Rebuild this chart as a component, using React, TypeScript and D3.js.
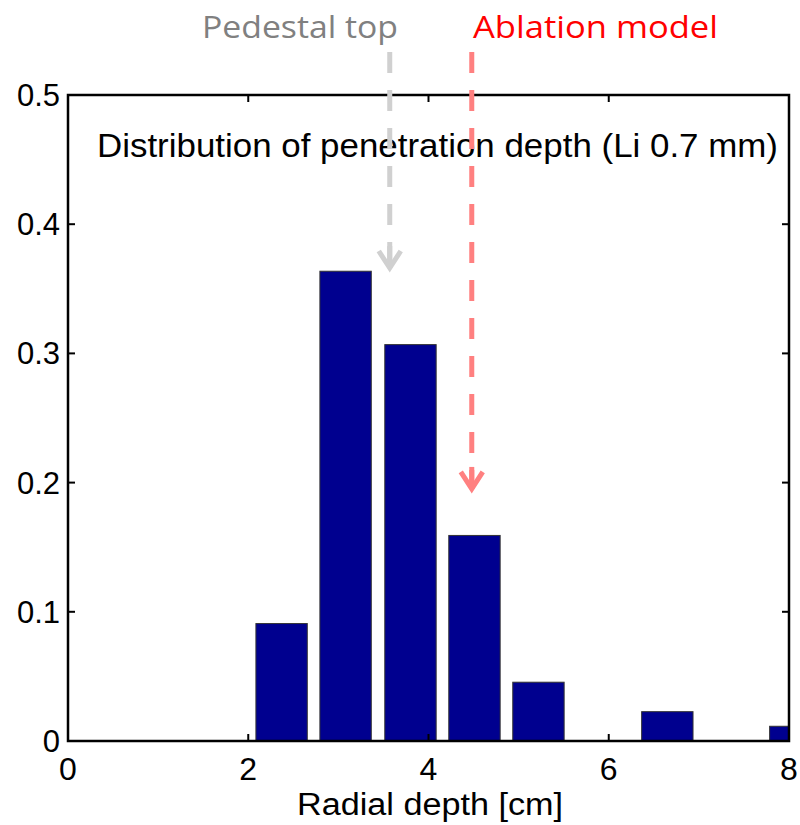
import React from "react";
import * as d3 from "d3";

const binCenters = [2.37, 3.08, 3.8, 4.51, 5.22, 5.93, 6.65, 7.36, 8.07];
const fractions = [0.0909, 0.3636, 0.3068, 0.1591, 0.0455, 0, 0.0227, 0, 0.0114];
const xTicks = [0, 2, 4, 6, 8];
const yTicks = [0, 0.1, 0.2, 0.3, 0.4, 0.5];
const markers = [
  { label: "Pedestal top", x: 3.57, tipY: 0.363, color: "#d0d0d0", textColor: "#808080" },
  { label: "Ablation model", x: 4.48, tipY: 0.192, color: "#ff8080", textColor: "#ff0000" },
];

const W = 800, H = 825;
const left = 68, right = 789, top = 95, bottom = 741;
const barWidth = 0.57;
const font = "'Liberation Sans', Arial, Helvetica, sans-serif";

export default function App() {
  const x = d3.scaleLinear().domain([0, 8]).range([left, right]);
  const y = d3.scaleLinear().domain([0, 0.5]).range([bottom, top]);
  const tickLen = 7;
  return (
    <svg width={W} height={H} style={{ position: "absolute", left: 0, top: 0, background: "#fff" }}>
      <defs>
        <clipPath id="plot">
          <rect x={left} y={top} width={right - left} height={bottom - top} />
        </clipPath>
      </defs>
      <g clipPath="url(#plot)">
        {binCenters.map((c, i) =>
          fractions[i] > 0 ? (
            <rect
              key={i}
              x={x(c - barWidth / 2)}
              y={y(fractions[i])}
              width={x(c + barWidth / 2) - x(c - barWidth / 2)}
              height={y(0) - y(fractions[i])}
              fill="#00008f"
              stroke="#333"
              strokeWidth={1}
            />
          ) : null
        )}
      </g>
      {/* ticks */}
      {xTicks.map((t) => (
        <g key={"x" + t}>
          <line x1={x(t)} x2={x(t)} y1={bottom} y2={bottom - tickLen} stroke="#000" strokeWidth={2} />
          <line x1={x(t)} x2={x(t)} y1={top} y2={top + tickLen} stroke="#000" strokeWidth={2} />
          <text x={x(t)} y={780} textAnchor="middle" fontFamily={font} fontSize={32} fill="#000">
            {d3.format("d")(t)}
          </text>
        </g>
      ))}
      {yTicks.map((t) => (
        <g key={"y" + t}>
          <line x1={left} x2={left + tickLen} y1={y(t)} y2={y(t)} stroke="#000" strokeWidth={2} />
          <line x1={right} x2={right - tickLen} y1={y(t)} y2={y(t)} stroke="#000" strokeWidth={2} />
          <text x={60} y={y(t) + 11} textAnchor="end" fontFamily={font} fontSize={31} fill="#000">
            {t === 0 ? "0" : d3.format(".1f")(t)}
          </text>
        </g>
      ))}
      <rect x={left} y={top} width={right - left} height={bottom - top} fill="none" stroke="#000" strokeWidth={2.5} />
      <text x={97} y={157} fontFamily={font} fontSize={34} fill="#000" textLength={681} lengthAdjust="spacingAndGlyphs">
        Distribution of penetration depth (Li 0.7 mm)
      </text>
      <text x={430} y={815} textAnchor="middle" fontFamily={font} fontSize={31} fill="#000" textLength={266} lengthAdjust="spacingAndGlyphs">
        Radial depth [cm]
      </text>
      {markers.map((m) => {
        const cx = x(m.x);
        const ty = y(m.tipY);
        return (
          <g key={m.label}>
            <line x1={cx} x2={cx} y1={52} y2={ty - 4} stroke={m.color} strokeWidth={5} strokeDasharray="21,17" />
            <line x1={cx} x2={cx} y1={ty - 26} y2={ty - 4} stroke={m.color} strokeWidth={5} />
            <path d={`M${cx - 11},${ty - 21} L${cx},${ty - 4} L${cx + 11},${ty - 21}`} fill="none" stroke={m.color} strokeWidth={5} />
          </g>
        );
      })}
      <text x={202} y={38} fontFamily="'Open Sans', 'Noto Sans', sans-serif" fontSize={31} fill={markers[0].textColor} textLength={196} lengthAdjust="spacingAndGlyphs">
        {markers[0].label}
      </text>
      <text x={473} y={38} fontFamily="'Open Sans', 'Noto Sans', sans-serif" fontSize={31} fill={markers[1].textColor} textLength={245} lengthAdjust="spacingAndGlyphs">
        {markers[1].label}
      </text>
    </svg>
  );
}
